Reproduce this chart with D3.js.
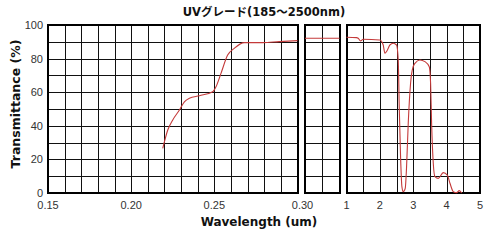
<!DOCTYPE html>
<html>
<head>
<meta charset="utf-8">
<script src="https://cdn.jsdelivr.net/npm/d3@7"></script>
<style>
	body { margin: 0; background: #fff; }
	svg { display: block; }
	.tick-label { font-family: "Liberation Sans", Arial, sans-serif; font-size: 11px; fill: #333; }
	.axis-title { font-family: "DejaVu Sans", "Noto Sans CJK JP", sans-serif; font-weight: bold; fill: #111; }
</style>
</head>
<body>
<div id="chart-area"></div>
<script>

// Chart values
const title = "UVグレード(185～2500nm)";

// UV panel (0.15 - 0.30 um)
const uvWavelength = [0.219, 0.222, 0.225, 0.229, 0.232, 0.235, 0.241, 0.249, 0.251, 0.254, 0.258, 0.262, 0.268, 0.279, 0.289, 0.300];
const uvTrans      = [26.6, 37.5, 43.5, 49.4, 54.3, 56.4, 57.9, 60.3, 63.3, 71.2, 82.1, 86.1, 89.5, 89.5, 90.1, 90.7];

// visible panel (0.30 - 1.0 um)
const visWavelength = [0.30, 1.0];
const visTrans      = [92.1, 92.1];

// IR panel (1 - 5 um)
const irWavelength = [1.00, 1.30, 1.35, 1.42, 1.50, 2.00, 2.10, 2.15, 2.21, 2.30, 2.40, 2.50, 2.55, 2.58, 2.62, 2.66, 2.70, 2.76, 2.80, 2.85, 2.92, 2.97, 3.05, 3.20, 3.35, 3.48, 3.52, 3.55, 3.60, 3.65, 3.75, 3.90, 4.02, 4.10, 4.20, 4.30, 4.38, 4.45];
const irTrans      = [92.7, 92.5, 92.1, 90.5, 91.5, 91.1, 88.1, 83.2, 84.5, 88.1, 89.1, 88.1, 79.2, 51.4, 21.6, 3.8, 0.8, 2.8, 15.7, 41.5, 65.3, 73.2, 77.2, 79.2, 78.2, 75.2, 65.3, 41.5, 17.7, 9.7, 8.7, 12.1, 10.7, 5.8, 0.8, 0.2, 1.4, 0];

// tick values
const yGrid = d3.range(0, 101, 10);
const yLabels = [0, 20, 40, 60, 80, 100];
const uvGrid = d3.range(15, 31).map(d => d / 100);
const uvLabels = [0.15, 0.20, 0.25];
const visGrid = [0.65];
const irGrid = d3.range(2, 11).map(d => d / 2);
const irLabels = [1, 2, 3, 4, 5];

let width = 500,
	height = 240;
const plotTop = 25, plotBottom = 193;

let svg = d3.select("#chart-area")
	.append("svg")
	.attr("width", width)
	.attr("height", height);

const y = d3.scaleLinear().domain([0, 100]).range([plotBottom, plotTop]);

const panels = [
	{ x: d3.scaleLinear().domain([0.15, 0.30]).range([48, 297.5]), grid: uvGrid, wl: uvWavelength, tr: uvTrans },
	{ x: d3.scaleLinear().domain([0.30, 1.0]).range([305, 339.5]), grid: visGrid, wl: visWavelength, tr: visTrans },
	{ x: d3.scaleLinear().domain([1, 5]).range([346.5, 480]), grid: irGrid, wl: irWavelength, tr: irTrans }
];

const crisp = v => Math.round(v) + 0.5;

panels.forEach(p => {
	const [x0, x1] = p.x.range();
	const g = svg.append("g");

	// horizontal grid
	g.selectAll(".hgrid")
		.data(yGrid)
		.enter()
		.append("line")
		.attr("x1", x0).attr("x2", x1)
		.attr("y1", d => crisp(y(d))).attr("y2", d => crisp(y(d)))
		.style("stroke", "#111").style("stroke-width", 1);

	// vertical grid
	g.selectAll(".vgrid")
		.data(p.grid)
		.enter()
		.append("line")
		.attr("x1", d => crisp(p.x(d))).attr("x2", d => crisp(p.x(d)))
		.attr("y1", plotTop).attr("y2", plotBottom)
		.style("stroke", "#111").style("stroke-width", 1);

	// frame
	g.append("rect")
		.attr("x", Math.round(x0)).attr("y", plotTop)
		.attr("width", Math.round(x1) - Math.round(x0)).attr("height", plotBottom - plotTop)
		.style("fill", "none").style("stroke", "#000").style("stroke-width", 2);

	// transmittance curve
	const line = d3.line()
		.x((d, i) => p.x(p.wl[i]))
		.y((d, i) => y(p.tr[i]))
		.curve(d3.curveMonotoneX);

	g.append("path")
		.datum(p.wl)
		.attr("d", line)
		.style("fill", "none")
		.style("stroke", "#c43a3a")
		.style("stroke-width", 1.1);
});

// y tick labels
svg.selectAll(".ylab")
	.data(yLabels)
	.enter()
	.append("text")
	.attr("class", "tick-label")
	.attr("text-anchor", "end")
	.attr("x", 43)
	.attr("y", d => y(d) + 4)
	.text(d => d);

// x tick labels
const xLabelY = 209;
svg.selectAll(".uvlab")
	.data(uvLabels)
	.enter()
	.append("text")
	.attr("class", "tick-label")
	.attr("text-anchor", "middle")
	.attr("x", d => panels[0].x(d))
	.attr("y", xLabelY)
	.text(d => d.toFixed(2));

svg.append("text")
	.attr("class", "tick-label")
	.attr("text-anchor", "middle")
	.attr("x", 302.5)
	.attr("y", xLabelY)
	.text("0.30");

svg.selectAll(".irlab")
	.data(irLabels)
	.enter()
	.append("text")
	.attr("class", "tick-label")
	.attr("text-anchor", "middle")
	.attr("x", d => panels[2].x(d))
	.attr("y", xLabelY)
	.text(d => d);

// title
svg.append("text")
	.attr("class", "axis-title")
	.attr("text-anchor", "middle")
	.attr("x", 264)
	.attr("y", 16)
	.style("font-size", "11.5px")
	.text(title);

// x axis title
svg.append("text")
	.attr("class", "axis-title")
	.attr("text-anchor", "middle")
	.attr("x", 259)
	.attr("y", 226)
	.style("font-size", "12px")
	.text("Wavelength (um)");

// y axis title
svg.append("text")
	.attr("class", "axis-title")
	.attr("text-anchor", "middle")
	.attr("transform", "rotate(-90)")
	.attr("x", -104)
	.attr("y", 20)
	.style("font-size", "12.5px")
	.text("Transmittance (%)");
</script>
</body>
</html>
